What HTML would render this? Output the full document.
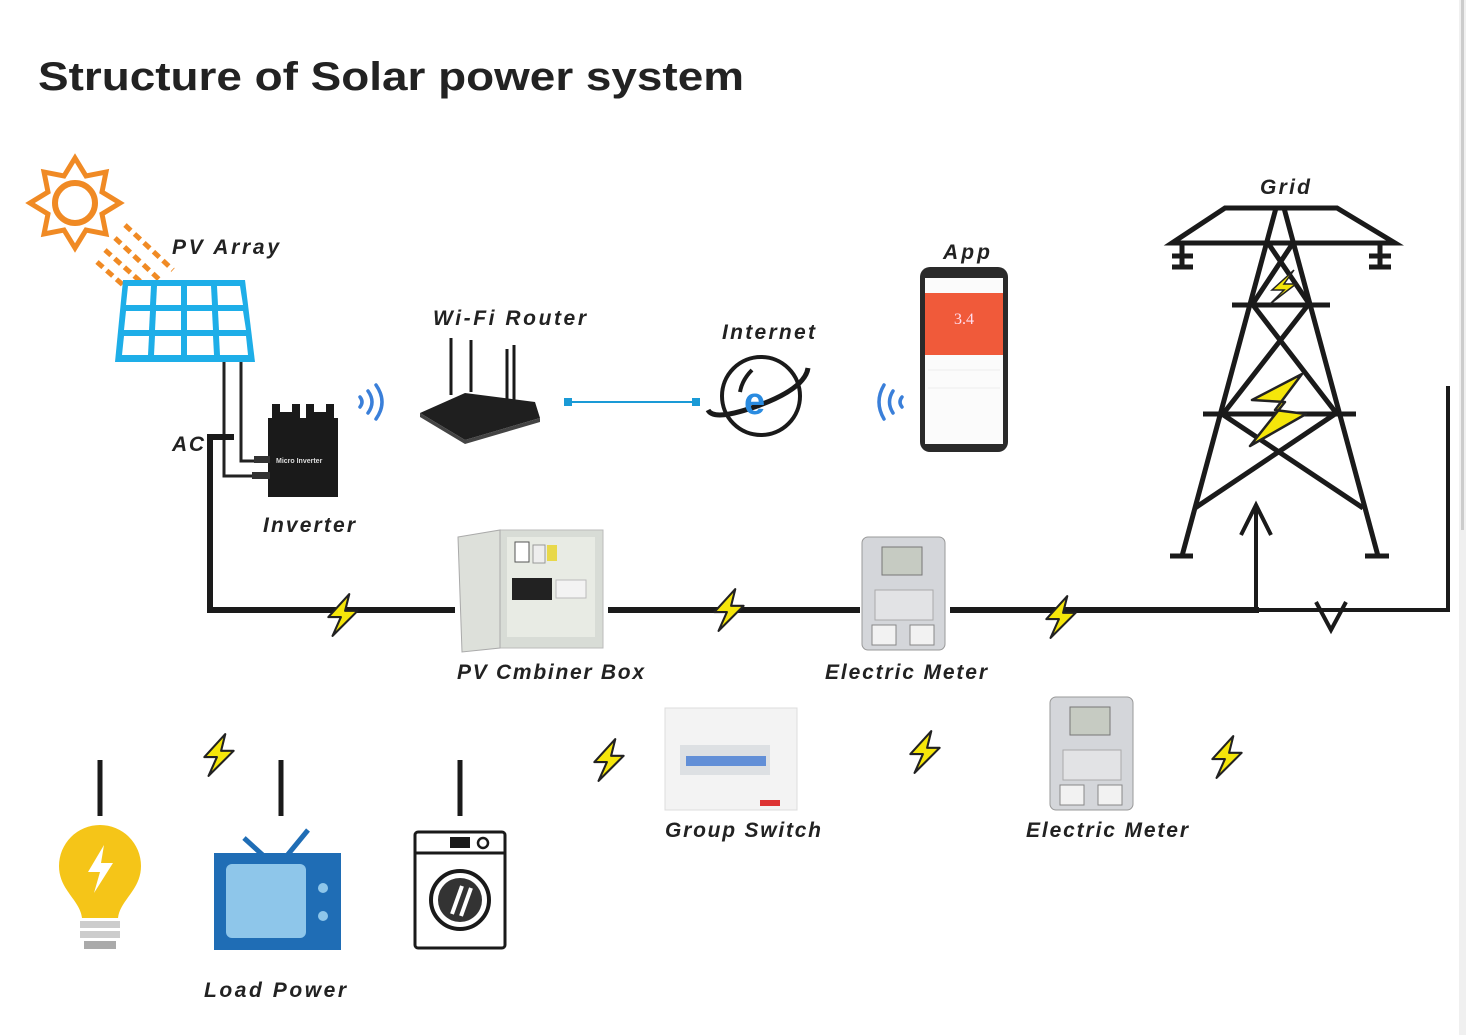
<!DOCTYPE html>
<html><head><meta charset="utf-8"><style>
html,body{margin:0;padding:0;background:#fff;}
svg{display:block;}
.l{font-family:"Liberation Sans",sans-serif;font-weight:bold;font-style:italic;font-size:21px;fill:#222;}
</style></head><body>
<svg width="1466" height="1035" viewBox="0 0 1466 1035" xmlns="http://www.w3.org/2000/svg">
<defs>
<symbol id="bolt" viewBox="0 0 40 44"><path d="M26 2 L6 24 L18 24 L10 42 L34 18 L22 18 Z" fill="#f5e60a" stroke="#222" stroke-width="2" stroke-linejoin="round"/></symbol>
</defs>
<rect x="1459" y="0" width="7" height="1035" fill="#f0f0f0"/>
<rect x="1461" y="0" width="3" height="530" fill="#ccc"/>
<text x="38" y="90" font-family="Liberation Sans,sans-serif" font-weight="bold" font-size="40" fill="#222" textLength="706" lengthAdjust="spacingAndGlyphs">Structure of Solar power system</text>

<!-- sun -->
<g fill="none" stroke="#f08a24" stroke-width="5">
<circle cx="75" cy="203" r="20" stroke-width="6"/>
<path d="M75 158 L86 176 L106 172 L102 192 L120 203 L102 214 L106 234 L86 230 L75 248 L64 230 L44 234 L48 214 L30 203 L48 192 L44 172 L64 176 Z" stroke-linejoin="miter"/>
<g stroke-width="5" stroke-dasharray="8 5">
<line x1="125" y1="225" x2="173" y2="270"/>
<line x1="115" y1="238" x2="165" y2="285"/>
<line x1="105" y1="250" x2="150" y2="290"/>
<line x1="97" y1="262" x2="140" y2="300"/>
</g></g>
<!-- panel -->
<path d="M123 280 L245 280 L255 362 L115 362 Z" fill="#1eaee8"/>
<g fill="#fff">
<path d="M128 286 L151 286 L150 305 L126 305 Z"/><path d="M157 286 L181 286 L181 305 L156 305 Z"/><path d="M187 286 L211 286 L212 305 L187 305 Z"/><path d="M217 286 L240 286 L243 305 L218 305 Z"/>
<path d="M126 311 L150 311 L149 330 L124 330 Z"/><path d="M156 311 L181 311 L181 330 L155 330 Z"/><path d="M187 311 L212 311 L213 330 L187 330 Z"/><path d="M218 311 L243 311 L246 330 L219 330 Z"/>
<path d="M124 336 L149 336 L148 355 L122 355 Z"/><path d="M155 336 L181 336 L181 355 L154 355 Z"/><path d="M187 336 L213 336 L214 355 L187 355 Z"/><path d="M219 336 L246 336 L248 355 L220 355 Z"/>
</g>
<text class="l" x="172" y="254" textLength="107" lengthAdjust="spacing">PV  Array</text>
<!-- wires -->
<g fill="none" stroke="#222" stroke-width="3">
<path d="M224 362 L224 476 L258 476"/><path d="M241 362 L241 461 L262 461"/>
</g>
<path d="M210 610 L210 437 L234 437" fill="none" stroke="#1a1a1a" stroke-width="6"/>
<text class="l" x="172" y="451" textLength="32" lengthAdjust="spacing">AC</text>
<!-- inverter -->
<path d="M272 418 L272 404 L280 404 L280 412 L292 412 L292 404 L300 404 L300 418 L306 418 L306 404 L314 404 L314 412 L326 412 L326 404 L334 404 L334 418 Z" fill="#1a1a1a"/>
<rect x="268" y="418" width="70" height="79" fill="#1a1a1a"/>
<rect x="254" y="456" width="16" height="7" fill="#333"/><rect x="252" y="472" width="18" height="7" fill="#333"/>
<text x="276" y="463" font-family="Liberation Sans,sans-serif" font-size="7" font-weight="bold" fill="#ddd">Micro Inverter</text>
<text class="l" x="263" y="532" textLength="92" lengthAdjust="spacing">Inverter</text>
<!-- wifi left -->
<g fill="none" stroke="#3a7fd9" stroke-width="3.5" stroke-linecap="round">
<path d="M360 397 Q364 402 360 407"/><path d="M368 391 Q376 402 368 413"/><path d="M376 385 Q388 402 376 419"/>
</g>
<!-- router -->
<g stroke="#1a1a1a" stroke-width="3"><line x1="451" y1="338" x2="451" y2="395"/><line x1="471" y1="340" x2="471" y2="392"/><line x1="507" y1="349" x2="507" y2="400"/><line x1="514" y1="345" x2="514" y2="418"/></g>
<path d="M420 413 L465 393 L535 402 L540 418 L465 440 Z" fill="#1f1f1f"/>
<path d="M420 413 L465 440 L540 418 L540 422 L465 444 L420 417 Z" fill="#444"/>
<text class="l" x="433" y="325" textLength="153" lengthAdjust="spacing">Wi-Fi  Router</text>
<!-- link -->
<line x1="568" y1="402" x2="696" y2="402" stroke="#1a9ad6" stroke-width="2"/>
<rect x="564" y="398" width="8" height="8" fill="#1a9ad6"/><rect x="692" y="398" width="8" height="8" fill="#1a9ad6"/>
<!-- internet -->
<g fill="none" stroke="#1a1a1a" stroke-width="4">
<circle cx="761" cy="396" r="39"/>
<path d="M708 410 Q714 422 760 405 Q805 388 808 368" stroke-width="5"/>
<path d="M752 370 Q742 380 740 392" stroke-width="4"/>
</g>
<text x="744" y="414" font-family="Liberation Sans,sans-serif" font-weight="bold" font-size="38" fill="#2a8be0">e</text>
<text class="l" x="722" y="339" textLength="93" lengthAdjust="spacing">Internet</text>
<!-- wifi right -->
<g fill="none" stroke="#3a7fd9" stroke-width="3.5" stroke-linecap="round">
<path d="M902 397 Q898 402 902 407"/><path d="M893 391 Q886 402 893 413"/><path d="M884 385 Q874 402 884 419"/>
</g>
<!-- phone -->
<rect x="920" y="267" width="88" height="185" rx="10" fill="#2a2a2a"/>
<rect x="925" y="278" width="78" height="166" fill="#fbfbfb"/>
<rect x="925" y="293" width="78" height="62" fill="#f05a3a"/>
<text x="964" y="324" text-anchor="middle" font-family="Liberation Serif,serif" font-size="16" fill="#fde">3.4</text>
<line x1="928" y1="370" x2="1000" y2="370" stroke="#eee"/><line x1="928" y1="388" x2="1000" y2="388" stroke="#eee"/>
<text class="l" x="943" y="259" textLength="47" lengthAdjust="spacing">App</text>
<!-- grid tower -->
<g fill="none" stroke="#1a1a1a" stroke-width="5">
<path d="M1172 243 L1225 208 L1337 208 L1395 243 Z"/>
<line x1="1182" y1="243" x2="1182" y2="268"/><line x1="1172" y1="256" x2="1193" y2="256"/><line x1="1172" y1="267" x2="1193" y2="267"/>
<line x1="1380" y1="243" x2="1380" y2="268"/><line x1="1369" y1="256" x2="1391" y2="256"/><line x1="1369" y1="267" x2="1391" y2="267"/>
<line x1="1276" y1="208" x2="1182" y2="556"/><line x1="1284" y1="208" x2="1378" y2="556"/>
<line x1="1170" y1="556" x2="1193" y2="556"/><line x1="1365" y1="556" x2="1389" y2="556"/>
<line x1="1232" y1="305" x2="1330" y2="305"/><line x1="1203" y1="414" x2="1356" y2="414"/>
<line x1="1268" y1="243" x2="1310" y2="305"/><line x1="1293" y1="243" x2="1252" y2="305"/>
<line x1="1253" y1="305" x2="1337" y2="414"/><line x1="1308" y1="305" x2="1223" y2="414"/>
<line x1="1222" y1="414" x2="1363" y2="508"/><line x1="1335" y1="414" x2="1195" y2="508"/>
</g>
<path d="M1294 270 L1272 290 L1284 290 L1270 304 L1296 284 L1284 284 Z" fill="#f5e60a" stroke="#222" stroke-width="1.5"/>
<path d="M1302 374 L1252 400 L1285 402 L1250 446 L1306 414 L1275 410 Z" fill="#f5e60a" stroke="#222" stroke-width="2.5" stroke-linejoin="round"/>
<text class="l" x="1260" y="194" textLength="50" lengthAdjust="spacing">Grid</text>
<!-- main line -->
<g stroke="#1a1a1a" stroke-width="6">
<line x1="207" y1="610" x2="455" y2="610"/><line x1="608" y1="610" x2="860" y2="610"/><line x1="950" y1="610" x2="1259" y2="610"/>
</g>
<g fill="none" stroke="#1a1a1a" stroke-width="4">
<path d="M1256 610 L1448 610 L1448 386"/>
<line x1="1256" y1="610" x2="1256" y2="505"/><path d="M1241 535 L1256 505 L1271 535"/>
<path d="M1316 602 L1331 630 L1346 602"/>
</g>
<!-- bolts -->
<use href="#bolt" x="322" y="592" width="42" height="46"/>
<use href="#bolt" x="708" y="587" width="42" height="46"/>
<use href="#bolt" x="1040" y="594" width="42" height="46"/>
<use href="#bolt" x="198" y="732" width="42" height="46"/>
<use href="#bolt" x="588" y="737" width="42" height="46"/>
<use href="#bolt" x="904" y="729" width="42" height="46"/>
<use href="#bolt" x="1206" y="734" width="42" height="46"/>
<!-- combiner box -->
<rect x="500" y="530" width="103" height="118" fill="#d8dcd6" stroke="#bbb"/>
<rect x="507" y="537" width="88" height="100" fill="#e8ebe4"/>
<rect x="515" y="542" width="14" height="20" fill="#fff" stroke="#555"/><rect x="533" y="545" width="12" height="18" fill="#eee" stroke="#999"/><rect x="547" y="545" width="10" height="16" fill="#e8d84a"/>
<rect x="512" y="578" width="40" height="22" fill="#222"/>
<rect x="556" y="580" width="30" height="18" fill="#f3f3f3" stroke="#bbb"/>
<path d="M458 537 L500 530 L500 648 L462 652 Z" fill="#dde0da" stroke="#aaa"/>
<text class="l" x="457" y="679" textLength="187" lengthAdjust="spacing">PV Cmbiner Box</text>
<!-- meter 1 -->
<rect x="862" y="537" width="83" height="113" rx="6" fill="#d4d6da" stroke="#999"/>
<rect x="882" y="547" width="40" height="28" fill="#c6cbc2" stroke="#777"/>
<rect x="875" y="590" width="58" height="30" fill="#e2e3e5" stroke="#aaa"/>
<rect x="872" y="625" width="24" height="20" fill="#f2f2f2" stroke="#888"/><rect x="910" y="625" width="24" height="20" fill="#f2f2f2" stroke="#888"/>
<text class="l" x="825" y="679" textLength="162" lengthAdjust="spacing">Electric Meter</text>
<!-- group switch -->
<rect x="665" y="708" width="132" height="102" fill="#f3f3f3" stroke="#ddd"/>
<rect x="680" y="745" width="90" height="30" fill="#dde0e3"/>
<rect x="686" y="756" width="80" height="10" fill="#2d6cd1" opacity=".7"/>
<rect x="760" y="800" width="20" height="6" fill="#d33"/>
<text class="l" x="665" y="837" textLength="156" lengthAdjust="spacing">Group Switch</text>
<!-- meter 2 -->
<rect x="1050" y="697" width="83" height="113" rx="6" fill="#d4d6da" stroke="#999"/>
<rect x="1070" y="707" width="40" height="28" fill="#c6cbc2" stroke="#777"/>
<rect x="1063" y="750" width="58" height="30" fill="#e2e3e5" stroke="#aaa"/>
<rect x="1060" y="785" width="24" height="20" fill="#f2f2f2" stroke="#888"/><rect x="1098" y="785" width="24" height="20" fill="#f2f2f2" stroke="#888"/>
<text class="l" x="1026" y="837" textLength="162" lengthAdjust="spacing">Electric Meter</text>
<!-- loads -->
<g stroke="#1a1a1a" stroke-width="5"><line x1="100" y1="760" x2="100" y2="816"/><line x1="281" y1="760" x2="281" y2="816"/><line x1="460" y1="760" x2="460" y2="816"/></g>
<path d="M100 825 A41 41 0 0 1 141 866 C141 890 120 900 118 918 L82 918 C80 900 59 890 59 866 A41 41 0 0 1 100 825 Z" fill="#f5c518"/>
<path d="M104 845 L88 872 L100 872 L94 893 L113 863 L101 863 Z" fill="#fff"/>
<rect x="80" y="921" width="40" height="7" fill="#ccc"/><rect x="80" y="931" width="40" height="7" fill="#ccc"/><rect x="84" y="941" width="32" height="8" fill="#aaa"/>
<g stroke="#1f6db5" stroke-width="5"><line x1="244" y1="838" x2="266" y2="858"/><line x1="308" y1="830" x2="285" y2="858"/></g>
<rect x="214" y="853" width="127" height="97" fill="#1f6db5"/>
<rect x="226" y="864" width="80" height="74" rx="6" fill="#8ec6ea"/>
<circle cx="323" cy="888" r="5" fill="#8ec6ea"/><circle cx="323" cy="916" r="5" fill="#8ec6ea"/>
<rect x="415" y="832" width="90" height="116" rx="3" fill="#fff" stroke="#1a1a1a" stroke-width="3"/>
<line x1="415" y1="853" x2="505" y2="853" stroke="#1a1a1a" stroke-width="3"/>
<rect x="450" y="837" width="20" height="11" fill="#1a1a1a"/><circle cx="483" cy="843" r="5" fill="none" stroke="#1a1a1a" stroke-width="2.5"/>
<circle cx="460" cy="900" r="29" fill="none" stroke="#1a1a1a" stroke-width="4"/>
<circle cx="460" cy="900" r="22" fill="#333"/>
<g stroke="#fff" stroke-width="4"><line x1="452" y1="914" x2="462" y2="886"/><line x1="461" y1="916" x2="471" y2="888"/></g>
<text class="l" x="204" y="997" textLength="142" lengthAdjust="spacing">Load Power</text>
</svg>
</body></html>
